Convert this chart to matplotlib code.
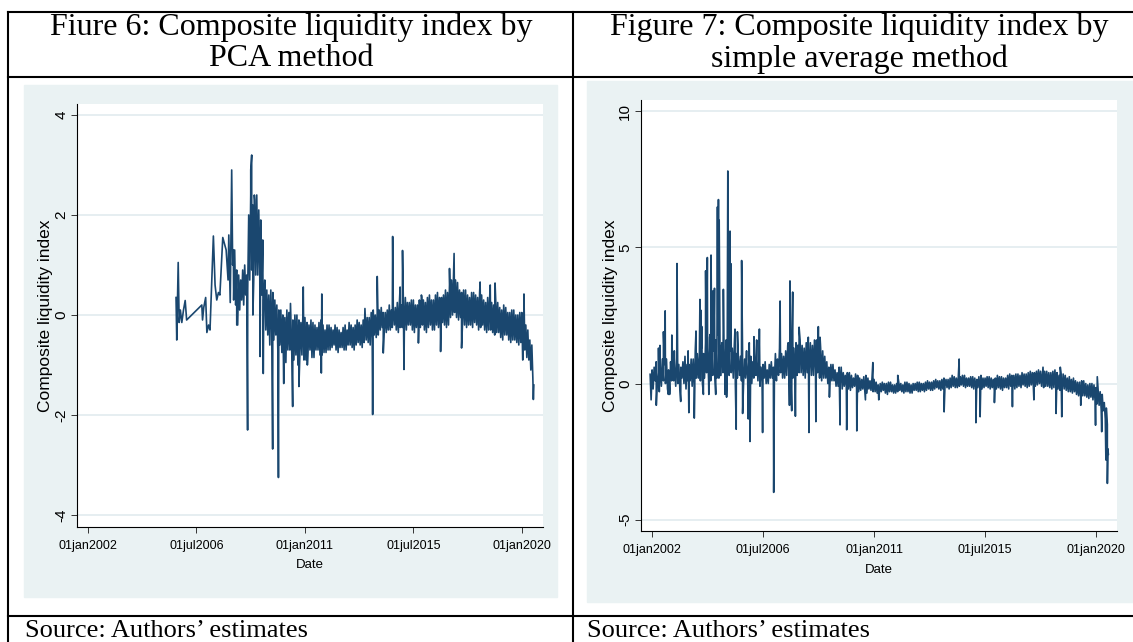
"""Composite liquidity index: PCA vs simple average (two Stata-style panels in a table)"""

import numpy as np
import matplotlib
matplotlib.use("Agg")
import matplotlib.pyplot as plt
from matplotlib.patches import Rectangle
from matplotlib.lines import Line2D

# x axis ticks (decimal years) and Stata date labels
date_ticks = [2002.0, 2006.496, 2011.0, 2015.496, 2020.0]
date_labels = ["01jan2002", "01jul2006", "01jan2011", "01jul2015", "01jan2020"]

# ---- Figure 6: PCA index ----
# sparse early observations
pca_early_dates = [2005.65, 2005.68, 2005.74, 2005.78, 2005.83, 2005.89, 2005.96,
                   2006.03, 2006.09, 2006.72, 2006.75, 2006.80, 2006.88, 2006.93,
                   2007.00, 2007.06, 2007.20, 2007.27, 2007.34, 2007.41, 2007.47,
                   2007.59, 2007.73, 2007.81, 2007.84, 2007.90, 2007.96]
pca_early_values = [0.35, -0.5, 1.05, -0.15, 0.1, -0.15, 0.1,
                    0.29, -0.1, 0.2, -0.1, 0.15, 0.35, -0.35,
                    -0.2, -0.3, 1.58, 0.6, 0.3, 0.45, 0.4,
                    1.55, 1.3, 0.7, 1.6, 0.25, 2.9]
# half-monthly upper / lower readings of the dense band, from jan2008
pca_band_start = 2008.0
pca_band = [
    1.0, 0.3, 1.3, 0.2, 0.9, -0.2, 0.8, 0.1, 0.7, 0.3, 0.9, 0.2,
    1.0, 0.4, 0.8, 0.5, 2.0, 0.7, 2.4, 0.9, 2.2, 0.7, 2.3, 0.8,                  # 2008
    2.4, 0.8, 2.1, 0.9, 1.9, 0.4, 1.5, 0.3, 0.7, -0.3, 0.5, -0.4,
    0.4, -0.6, 0.5, -0.3, 0.45, -0.5, 0.3, -0.4, 0.2, -0.7, 0.1, -0.6,           # 2009
    0.1, -0.75, 0.0, -0.8, -0.05, -0.95, 0.1, -0.7, 0.05, -0.7, -0.1, -0.85,
    -0.1, -0.9, 0.0, -0.8, 0.0, -1.0, -0.1, -0.75, -0.15, -0.8, 0.05, -0.9,      # 2010
    -0.05, -0.9, -0.15, -0.75, -0.2, -0.7, -0.1, -0.85, -0.15, -0.85, -0.2, -0.7,
    -0.25, -0.7, -0.15, -0.8, -0.1, -0.8, -0.2, -0.75, -0.3, -0.75, -0.2, -0.7,  # 2011
    -0.2, -0.7, -0.25, -0.65, -0.3, -0.6, -0.2, -0.7, -0.25, -0.75, -0.3, -0.65,
    -0.35, -0.65, -0.25, -0.7, -0.2, -0.7, -0.3, -0.6, -0.15, -0.6, -0.2, -0.65,  # 2012
    -0.25, -0.7, -0.2, -0.6, -0.1, -0.55, -0.15, -0.6, -0.2, -0.65, -0.1, -0.55,
    0.0, -0.5, -0.05, -0.55, -0.05, -0.6, 0.05, -0.45, 0.1, -0.4, 0.0, -0.45,    # 2013
    0.05, -0.4, 0.1, -0.3, 0.15, -0.25, 0.05, -0.3, 0.05, -0.35, 0.1, -0.3,
    0.2, -0.3, 0.1, -0.25, 0.1, -0.2, 0.15, -0.3, 0.25, -0.35, 0.2, -0.25,       # 2014
    0.2, -0.25, 0.3, -0.3, 0.35, -0.3, 0.25, -0.2, 0.25, -0.2, 0.3, -0.3,
    0.3, -0.35, 0.2, -0.25, 0.2, -0.3, 0.3, -0.25, 0.4, -0.2, 0.3, -0.3,         # 2015
    0.25, -0.35, 0.35, -0.25, 0.4, -0.2, 0.3, -0.3, 0.3, -0.3, 0.4, -0.2,
    0.45, -0.25, 0.35, -0.3, 0.35, -0.15, 0.4, -0.2, 0.5, -0.25, 0.45, -0.2,     # 2016
    0.6, -0.05, 0.7, 0.0, 0.75, 0.05, 0.7, -0.05, 0.65, -0.1, 0.5, -0.05,
    0.45, -0.15, 0.5, -0.2, 0.5, -0.25, 0.4, -0.2, 0.35, -0.2, 0.45, -0.25,      # 2017
    0.45, -0.15, 0.4, -0.2, 0.35, -0.3, 0.45, -0.25, 0.4, -0.2, 0.3, -0.3,
    0.25, -0.35, 0.35, -0.3, 0.35, -0.3, 0.25, -0.35, 0.2, -0.4, 0.3, -0.35,     # 2018
    0.25, -0.35, 0.15, -0.45, 0.1, -0.5, 0.2, -0.4, 0.15, -0.4, 0.05, -0.5,
    0.05, -0.55, 0.1, -0.5, 0.1, -0.5, 0.0, -0.55, 0.0, -0.6, 0.05, -0.55,       # 2019
    0.05, -0.55, -0.1, -0.7, -0.2, -0.85, -0.3, -0.9, -0.5, -1.1, -0.6, -1.25,
    -1.4,                                                                        # 2020
]
# isolated spikes
pca_spike_dates = [2008.03, 2008.17, 2008.62, 2008.75, 2008.79, 2008.84, 2008.90,
                   2009.14, 2009.27, 2009.66, 2009.90, 2010.12, 2010.40, 2010.49,
                   2010.75, 2010.93, 2011.10, 2011.68, 2011.70, 2013.49, 2013.81,
                   2014.00, 2014.25, 2014.64, 2014.95, 2015.05, 2015.11, 2015.71,
                   2015.85, 2016.63, 2017.00, 2017.19, 2017.50, 2018.27, 2018.69,
                   2018.89, 2020.04, 2020.09, 2020.48]
pca_spike_values = [1.3, -0.2, -2.3, 2.9, 3.2, 0.0, 2.4,
                    -0.83, -1.17, -2.68, -3.25, -1.37, 0.23, -1.83,
                    -1.43, 0.56, -1.0, -1.16, 0.42, 0.13, -1.99,
                    0.77, -0.76, 1.57, 0.56, 1.29, -1.09, -0.56,
                    0.36, -0.73, 0.93, 1.23, -0.66, 0.66, 0.6,
                    0.64, -0.9, 0.42, -1.69]

# ---- Figure 7: simple average index ----
avg_band_start = 2002.0
avg_band = [
    0.5, -0.2, 0.6, 0.1, 0.8, 0.0, 0.4, -0.3, 0.6, -0.1, 0.9, 0.1,
    0.7, 0.0, 0.9, -0.2, 0.5, -0.2, 0.8, 0.1, 0.7, 0.1, 0.6, -0.1,               # 2002
    0.9, 0.0, 0.7, -0.2, 0.6, 0.2, 0.8, 0.0, 1.0, -0.2, 0.7, 0.1,
    0.7, 0.1, 0.9, -0.1, 0.9, -0.1, 1.2, 0.2, 1.1, 0.2, 1.0, 0.1,                # 2003
    1.3, 0.0, 1.1, 0.2, 1.5, 0.4, 1.3, 0.1, 1.7, 0.1, 1.4, 0.3,
    1.2, 0.3, 1.6, 0.2, 1.8, 0.2, 1.5, 0.3, 1.5, 0.4, 1.3, 0.2,                  # 2004
    1.6, 0.1, 1.4, 0.3, 1.2, 0.4, 1.3, 0.2, 1.4, 0.0, 1.1, 0.2,
    0.9, 0.3, 1.0, 0.1, 1.2, 0.0, 0.9, 0.2, 0.8, 0.2, 1.0, 0.1,                  # 2005
    1.0, 0.0, 0.8, 0.2, 0.7, 0.3, 0.9, 0.1, 0.9, -0.1, 0.6, 0.1,
    0.7, 0.2, 0.8, 0.0, 0.5, 0.0, 0.7, 0.2, 0.8, 0.2, 0.6, 0.1,                  # 2006
    1.1, 0.1, 0.9, 0.3, 1.3, 0.4, 1.1, 0.2, 1.0, 0.2, 1.2, 0.3,
    1.4, 0.5, 1.2, 0.3, 1.1, 0.2, 1.3, 0.4, 1.5, 0.3, 1.4, 0.4,                  # 2007
    1.6, 0.4, 1.4, 0.3, 1.3, 0.2, 1.5, 0.4, 1.7, 0.5, 1.5, 0.3,
    1.4, 0.3, 1.6, 0.5, 1.6, 0.4, 1.5, 0.2, 1.3, 0.1, 1.2, 0.2,                  # 2008
    1.0, 0.2, 0.8, 0.0, 0.6, -0.1, 0.7, 0.1, 0.7, 0.1, 0.5, -0.1,
    0.4, -0.1, 0.6, 0.0, 0.6, -0.2, 0.4, -0.1, 0.3, -0.1, 0.4, -0.2,             # 2009
    0.4, -0.25, 0.3, -0.15, 0.2, -0.1, 0.35, -0.2, 0.3, -0.3, 0.2, -0.25,
    0.15, -0.2, 0.25, -0.3, 0.3, -0.35, 0.2, -0.2, 0.1, -0.25, 0.2, -0.3,        # 2010
    0.15, -0.3, 0.05, -0.35, -0.05, -0.4, 0.0, -0.3, 0.05, -0.25, 0.0, -0.35,
    0.0, -0.4, 0.05, -0.3, 0.05, -0.3, -0.05, -0.35, -0.05, -0.35, 0.0, -0.3,    # 2011
    0.05, -0.25, 0.0, -0.3, -0.05, -0.35, 0.05, -0.3, 0.05, -0.3, 0.0, -0.35,
    -0.05, -0.35, 0.0, -0.25, 0.0, -0.25, 0.05, -0.3, 0.05, -0.3, 0.0, -0.25,    # 2012
    0.0, -0.3, 0.05, -0.25, 0.1, -0.2, 0.05, -0.25, 0.05, -0.25, 0.1, -0.2,
    0.15, -0.15, 0.1, -0.2, 0.1, -0.25, 0.15, -0.2, 0.2, -0.1, 0.15, -0.15,      # 2013
    0.15, -0.2, 0.2, -0.15, 0.3, -0.1, 0.25, -0.15, 0.2, -0.15, 0.25, -0.1,
    0.25, -0.05, 0.3, -0.1, 0.3, -0.15, 0.2, -0.1, 0.2, -0.1, 0.25, -0.15,       # 2014
    0.25, -0.2, 0.2, -0.15, 0.15, -0.15, 0.25, -0.2, 0.3, -0.2, 0.2, -0.15,
    0.2, -0.1, 0.25, -0.15, 0.25, -0.2, 0.2, -0.15, 0.15, -0.25, 0.2, -0.2,      # 2015
    0.3, -0.15, 0.25, -0.2, 0.25, -0.25, 0.2, -0.15, 0.2, -0.15, 0.3, -0.2,
    0.35, -0.1, 0.3, -0.15, 0.3, -0.2, 0.35, -0.15, 0.35, -0.1, 0.3, -0.15,      # 2016
    0.4, -0.05, 0.35, -0.1, 0.35, -0.15, 0.4, -0.1, 0.45, -0.05, 0.4, -0.1,
    0.4, -0.1, 0.45, -0.05, 0.5, 0.0, 0.45, -0.1, 0.4, -0.15, 0.45, -0.1,        # 2017
    0.45, -0.1, 0.4, -0.15, 0.4, -0.2, 0.45, -0.15, 0.5, -0.15, 0.4, -0.2,
    0.3, -0.25, 0.35, -0.2, 0.35, -0.2, 0.3, -0.25, 0.2, -0.3, 0.25, -0.3,       # 2018
    0.15, -0.35, 0.2, -0.3, 0.1, -0.4, 0.05, -0.45, 0.05, -0.5, 0.1, -0.45,
    0.1, -0.45, 0.0, -0.5, -0.05, -0.55, 0.0, -0.5, 0.0, -0.6, -0.05, -0.6,      # 2019
    -0.15, -0.75, -0.2, -0.8, -0.3, -0.95, -0.4, -1.0, -0.7, -1.3, -0.9, -1.5,
    -2.6,                                                                        # 2020
]
avg_spike_dates = [
    2001.92, 2001.96, 2002.17, 2002.26, 2002.32, 2002.46, 2002.53, 2002.66, 2002.71, 2002.80, 2002.90,
    2003.01, 2003.16, 2003.46, 2003.49, 2003.71, 2003.78, 2003.94, 2003.97,
    2004.01, 2004.08, 2004.17, 2004.24, 2004.30, 2004.35, 2004.39, 2004.46, 2004.53, 2004.58,
    2004.65, 2004.69, 2004.72, 2004.76, 2004.82, 2004.89, 2004.96,
    2005.02, 2005.07, 2005.12, 2005.16, 2005.20, 2005.36, 2005.41, 2005.46, 2005.63, 2005.67,
    2005.83, 2005.90, 2005.94, 2005.97,
    2006.13, 2006.24, 2006.35, 2006.48, 2006.93,
    2007.05, 2007.19, 2007.52, 2007.57, 2007.59, 2007.66, 2007.70, 2007.81, 2007.86, 2007.96,
    2008.36, 2008.64, 2008.74, 2008.81, 2009.19, 2009.62, 2009.89, 2010.30, 2010.65, 2010.95,
    2011.19, 2011.96, 2013.84, 2014.45, 2015.13, 2015.30, 2015.88, 2016.61, 2017.48, 2017.85,
    2018.38, 2018.55, 2018.61, 2019.38, 2019.98, 2020.05, 2020.23, 2020.40, 2020.46, 2020.48,
]
avg_spike_values = [
    0.34, -0.6, -0.8, 1.3, 1.4, 1.9, 2.67, -0.4, -0.4, 1.78, 1.2,
    4.41, -0.66, 1.2, -1.07, -1.27, 1.93, 3.09, 2.7,
    2.1, -0.4, 4.14, 4.63, -0.4, 1.8, 4.72, 3.4, 3.5, -0.4,
    6.49, 6.76, 6.0, 0.3, 1.4, 3.46, -0.4,
    -0.5, 7.81, 0.3, 5.6, 4.4, 2.0, -1.68, 1.9, 4.52, -1.1,
    1.2, -1.3, 1.5, -2.13,
    1.72, 1.6, 2.0, -1.8, -4.0,
    0.8, 3.03, 1.5, -0.8, 3.77, -1.0, 3.36, -1.2, 1.4, 2.07,
    -1.8, -1.4, 2.09, 1.7, -0.5, -1.52, -1.7, -1.74, -0.6, 0.77,
    -0.6, 0.3, -1.04, 0.9, -1.44, -1.22, -0.7, -0.85, -0.6, 0.6,
    -1.1, 0.6, -1.22, -0.8, -1.53, 0.25, -1.77, -2.81, -3.67, -2.4,
]

W, H = 1133, 642
NAVY = "#1A476F"
PANEL_BG = "#EAF2F3"
GRID = "#E4EDF0"

plt.rcParams["font.family"] = "Liberation Sans"
plt.rcParams["axes.unicode_minus"] = False


def build_series(start, band, extra_dates, extra_values, step=1 / 24):
    t = start + np.arange(len(band)) * step
    d = np.concatenate([t, np.asarray(extra_dates, float)])
    v = np.concatenate([np.asarray(band, float), np.asarray(extra_values, float)])
    order = np.argsort(d, kind="stable")
    return d[order], v[order]


def px_rect(x0, y0, x1, y1):
    return [x0 / W, 1 - y1 / H, (x1 - x0) / W, (y1 - y0) / H]


def style_axes(ax, yticks, ylabel_x, xlabel_y):
    for side in ("top", "right"):
        ax.spines[side].set_visible(False)
    for side in ("left", "bottom"):
        ax.spines[side].set_color("black")
        ax.spines[side].set_linewidth(0.8)
    ax.set_xticks(date_ticks)
    ax.set_xticklabels(date_labels)
    ax.set_yticks(yticks)
    ax.tick_params(axis="both", direction="out", length=4.3, width=0.7,
                   color="#333333")
    ax.tick_params(axis="x", labelsize=9, pad=5)
    ax.tick_params(axis="y", labelsize=11, pad=2, labelrotation=90)
    for lab in ax.get_yticklabels():
        lab.set_verticalalignment("center")
    ax.yaxis.grid(True, color=GRID, linewidth=1.3)
    ax.set_axisbelow(True)
    ax.set_ylabel("Composite liquidity index", fontsize=12.5, va="center")
    ax.yaxis.set_label_coords(ylabel_x, 0.5)
    ax.set_xlabel("Date", fontsize=9.5, va="center")
    ax.xaxis.set_label_coords(0.5, xlabel_y)


fig = plt.figure(figsize=(W / 100, H / 100), dpi=100)

# light panel backgrounds (Stata graph region)
fig.add_artist(Rectangle((24 / W, 1 - 597 / H), (557 - 24) / W, (597 - 85) / H,
                         transform=fig.transFigure, color=PANEL_BG, zorder=0))
fig.add_artist(Rectangle((587 / W, 1 - 602 / H), (1140 - 587) / W, (602 - 81) / H,
                         transform=fig.transFigure, color=PANEL_BG, zorder=0))

# table rules
for y in (12, 77, 616):
    fig.add_artist(Line2D([8 / W, 1.0], [1 - y / H] * 2, color="black", lw=1.5))
for x in (8, 572.5):
    fig.add_artist(Line2D([x / W] * 2, [1 - 12 / H, 0.0], color="black", lw=1.5))

# captions
serif = "Liberation Serif"
fig.text(291 / W, 1 - 35 / H, "Fiure 6: Composite liquidity index by",
         ha="center", va="baseline", family=serif, fontsize=23)
fig.text(291 / W, 1 - 66.5 / H, "PCA method",
         ha="center", va="baseline", family=serif, fontsize=23)
fig.text(859.5 / W, 1 - 35 / H, "Figure 7: Composite liquidity index by",
         ha="center", va="baseline", family=serif, fontsize=23)
fig.text(859.5 / W, 1 - 66.5 / H, "simple average method",
         ha="center", va="baseline", family=serif, fontsize=23)
fig.text(25 / W, 1 - 637 / H, "Source: Authors\u2019 estimates",
         ha="left", va="baseline", family=serif, fontsize=19)
fig.text(587 / W, 1 - 637 / H, "Source: Authors\u2019 estimates",
         ha="left", va="baseline", family=serif, fontsize=19)

# Figure 6 panel
ax1 = fig.add_axes(px_rect(77, 104, 543, 527))
d1, v1 = build_series(pca_band_start, pca_band,
                      pca_early_dates + pca_spike_dates,
                      pca_early_values + pca_spike_values)
ax1.plot(d1, v1, color=NAVY, lw=1.2)
ax1.set_xlim(2001.54, 2020.88)
ax1.set_ylim(-4.24, 4.22)
style_axes(ax1, [-4, -2, 0, 2, 4], (46 - 77) / 466, (527 - 565) / 423)

# Figure 7 panel
ax2 = fig.add_axes(px_rect(641, 100, 1117, 531))
d2, v2 = build_series(avg_band_start, avg_band, avg_spike_dates, avg_spike_values)
ax2.plot(d2, v2, color=NAVY, lw=1.2)
ax2.set_xlim(2001.55, 2020.85)
ax2.set_ylim(-5.42, 10.42)
style_axes(ax2, [-5, 0, 5, 10], (610 - 641) / 476, (531 - 570) / 431)

fig.savefig("out.png", dpi=100)
